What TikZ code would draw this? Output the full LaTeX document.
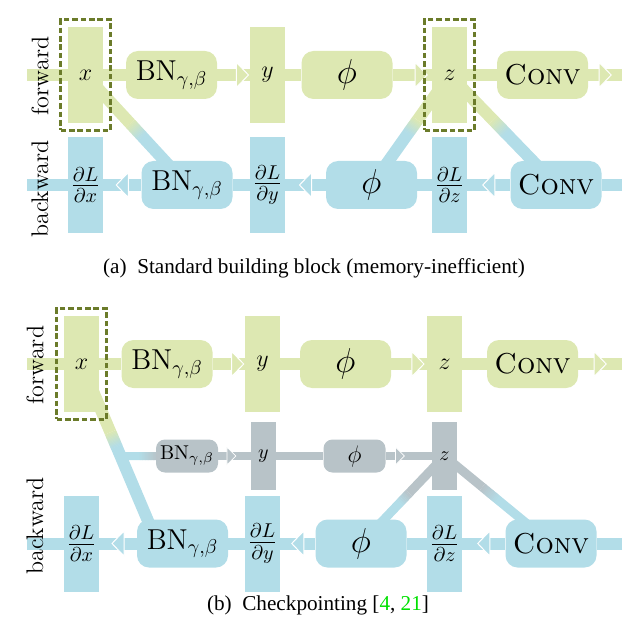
\documentclass[tikz,border=0pt]{standalone}
\usepackage{fontspec}
\newfontfamily\capfont{Liberation Serif}
\usetikzlibrary{calc,fit,backgrounds}
\definecolor{mbfwd}{HTML}{DDE8B2}
\definecolor{mbbwd}{HTML}{B2DDE8}
\definecolor{mbgray}{HTML}{B8C3C8}
\definecolor{mbolive}{HTML}{6B7B2A}
\definecolor{mbcite}{HTML}{00E000}
\tikzset{
  mb tensor/.style={rectangle, inner sep=0pt, minimum width=17.5pt, minimum height=48pt, font=\large},
  mb grad/.style={mb tensor, fill=mbbwd, font=\Large},
  mb op/.style={rectangle, rounded corners=6pt, inner sep=0pt, minimum width=45.5pt,
    minimum height=24pt, font=\Large},
  mb small tensor/.style={mb tensor, fill=mbgray, minimum width=12.5pt, minimum height=34pt,
    font=\normalsize},
  mb small op/.style={mb op, fill=mbgray, rounded corners=4.5pt, minimum width=31pt,
    minimum height=16.5pt, font=\normalsize},
  mb band/.style={line width=6pt, line cap=butt, line join=round},
  mb mid band/.style={line width=4.5pt, line cap=butt, line join=round},
  mb thin band/.style={line width=4pt, line cap=butt, line join=round},
  mb ckpt/.style={draw=mbolive, line width=1.15pt, dash pattern=on 2.8pt off 1.4pt,
    inner sep=3.5pt},
  mb head/.style={draw=white, line width=0.5pt, line join=miter},
  mb side/.style={rotate=90, font=\large},
  mb caption/.style={font=\capfont\fontsize{10.6}{13}\selectfont}
}
\newcommand{\fadeband}[7]{%
  \pgfmathsetmacro\fadelo{#6-#7/2}%
  \pgfmathsetmacro\fadehi{#6+#7/2}%
  \draw[#1, draw=#4] (#2.center) -- ($(#2.center)!\fadelo!(#3.center)$);
  \draw[#1, draw=#5] ($(#2.center)!\fadehi!(#3.center)$) -- (#3.center);
  \foreach \k in {0,...,11}{
    \pgfmathsetmacro\fadep{\fadelo+#7*\k/12}
    \pgfmathsetmacro\fadeq{\fadelo+#7*(\k+1.3)/12}
    \pgfmathtruncatemacro\fademix{100-100*(\k+0.5)/12}
    \draw[#1, draw=#4!\fademix!#5] ($(#2.center)!\fadep!(#3.center)$) -- ($(#2.center)!\fadeq!(#3.center)$);
  }%
}
\begin{document}
\begin{tikzpicture}[x=0.5pt, y=-0.5pt]
  \useasboundingbox (0,0) rectangle (628,636);
  % (a) standard block
  \node[mb tensor, fill=mbfwd] (x1) at (85.5,75) {$x$};
  \node[mb op, fill=mbfwd] (bnf1) at (171.5,75) {$\mathrm{BN}_{\gamma,\beta}$};
  \node[mb tensor, fill=mbfwd] (y1) at (267.5,75) {$y$};
  \node[mb op, fill=mbfwd, font=\LARGE] (phif1) at (347,75) {$\phi$};
  \node[mb tensor, fill=mbfwd] (z1) at (449.5,75) {$z$};
  \node[mb op, fill=mbfwd] (convf1) at (542.5,75) {\textsc{Conv}};
  \node[mb grad] (dx1) at (85.5,185) {$\frac{\partial L}{\partial x}$};
  \node[mb op, fill=mbbwd] (bnb1) at (187,185) {$\mathrm{BN}_{\gamma,\beta}$};
  \node[mb grad] (dy1) at (267.5,185) {$\frac{\partial L}{\partial y}$};
  \node[mb op, fill=mbbwd, font=\LARGE] (phib1) at (371.5,185) {$\phi$};
  \node[mb grad] (dz1) at (449.5,185) {$\frac{\partial L}{\partial z}$};
  \node[mb op, fill=mbbwd] (convb1) at (556,185) {\textsc{Conv}};
  \coordinate (fin1) at (27,75);
  \coordinate (fout1) at (622,75);
  \coordinate (bin1) at (622,185);
  \coordinate (bout1) at (27,185);
  \node[mb side] (fw1) at (40,76) {forward};
  \node[mb side] (bw1) at (40,189) {backward};
  % (b) checkpointing
  \node[mb tensor, fill=mbfwd] (x2) at (81.5,364) {$x$};
  \node[mb op, fill=mbfwd] (bnf2) at (167,364) {$\mathrm{BN}_{\gamma,\beta}$};
  \node[mb tensor, fill=mbfwd] (y2) at (262.5,364) {$y$};
  \node[mb op, fill=mbfwd, font=\LARGE] (phif2) at (345.5,364) {$\phi$};
  \node[mb tensor, fill=mbfwd] (z2) at (444.5,364) {$z$};
  \node[mb op, fill=mbfwd] (convf2) at (532.5,364) {\textsc{Conv}};
  \node[mb small op] (bng2) at (187,456) {$\mathrm{BN}_{\gamma,\beta}$};
  \node[mb small tensor] (yg2) at (263.5,456) {$y$};
  \node[mb small op, font=\large] (phig2) at (354.5,456) {$\phi$};
  \node[mb small tensor] (zg2) at (444.5,456) {$z$};
  \node[mb grad] (dx2) at (81.5,543.5) {$\frac{\partial L}{\partial x}$};
  \node[mb op, fill=mbbwd] (bnb2) at (182.5,543.5) {$\mathrm{BN}_{\gamma,\beta}$};
  \node[mb grad] (dy2) at (262.5,543.5) {$\frac{\partial L}{\partial y}$};
  \node[mb op, fill=mbbwd, font=\LARGE] (phib2) at (361,543.5) {$\phi$};
  \node[mb grad] (dz2) at (444.5,543.5) {$\frac{\partial L}{\partial z}$};
  \node[mb op, fill=mbbwd] (convb2) at (551,543.5) {\textsc{Conv}};
  \coordinate (fin2) at (27,364);
  \coordinate (fout2) at (622,364);
  \coordinate (bin2) at (622,543.5);
  \coordinate (bout2) at (27,543.5);
  \coordinate (bnin2) at ($(bnb2.west)+(21,0)$);
  \coordinate (fork2) at (intersection of x2--bnin2 and bng2.west--bng2.east);
  \node[mb side] (fw2) at (35,365) {forward};
  \node[mb side] (bw2) at (35,526) {backward};
  \begin{scope}[on background layer]
    \draw[mb band, mbfwd] (fin1) -- (x1) -- (bnf1) -- (y1) -- (phif1) -- (z1) -- (convf1) -- (fout1);
    \draw[mb band, mbbwd] (bin1) -- (convb1) -- (dz1) -- (phib1) -- (dy1) -- (bnb1) -- (dx1) -- (bout1);
    \fadeband{mb band}{x1}{bnb1}{mbfwd}{mbbwd}{0.5}{0.12}
    \fadeband{mb band}{z1}{phib1}{mbfwd}{mbbwd}{0.47}{0.12}
    \fadeband{mb band}{z1}{convb1}{mbfwd}{mbbwd}{0.47}{0.12}
    \draw[mb band, mbfwd] (fin2) -- (x2) -- (bnf2) -- (y2) -- (phif2) -- (z2) -- (convf2) -- (fout2);
    \draw[mb band, mbbwd] (bin2) -- (convb2) -- (dz2) -- (phib2) -- (dy2) -- (bnb2) -- (dx2) -- (bout2);
    \fadeband{mb band}{x2}{bnin2}{mbfwd}{mbbwd}{0.42}{0.08}
    \fadeband{mb thin band}{fork2}{bng2}{mbbwd}{mbgray}{0.42}{0.28}
    \draw[mb thin band, mbgray] (bng2) -- (yg2) -- (phig2) -- (zg2);
    \fadeband{mb mid band}{zg2}{phib2}{mbgray}{mbbwd}{0.48}{0.11}
    \fadeband{mb mid band}{zg2}{convb2}{mbgray}{mbbwd}{0.43}{0.15}
  \end{scope}
  \foreach \a/\b in {bnf1/y1, phif1/z1, convf1/fout1, bnf2/y2, phif2/z2, convf2/fout2}
    \filldraw[mb head, fill=mbfwd, shift={($(\a.east)!.5!(\b)$)}] (-6,-12.5) -- (6,0) -- (-6,12.5) -- cycle;
  \foreach \a/\b in {dx1/bnb1, dy1/phib1, dz1/convb1, dx2/bnb2, dy2/phib2, dz2/convb2}
    \filldraw[mb head, fill=mbbwd, shift={($(\a.east)!.5!(\b.west)$)}] (6,-12.5) -- (-6,0) -- (6,12.5) -- cycle;
  \foreach \a/\d in {bng2/13, phig2/14}
    \filldraw[mb head, line width=0.4pt, fill=mbgray, shift={($(\a.east)+(\d,0)$)}] (-4.5,-9) -- (4.5,0) -- (-4.5,9) -- cycle;
  \node[mb ckpt, fit=(x1)] (ck1) {};
  \node[mb ckpt, fit=(z1)] (ck2) {};
  \node[mb ckpt, fit=(x2)] (ck3) {};
  \node[mb caption] (capa) at (314,268) {(a)\hspace{0.5em}Standard building block (memory-inefficient)};
  \node[mb caption] (capb) at (318,605) {(b)\hspace{0.5em}Checkpointing [\textcolor{mbcite}{4}, \textcolor{mbcite}{21}]};
\end{tikzpicture}
\end{document}
